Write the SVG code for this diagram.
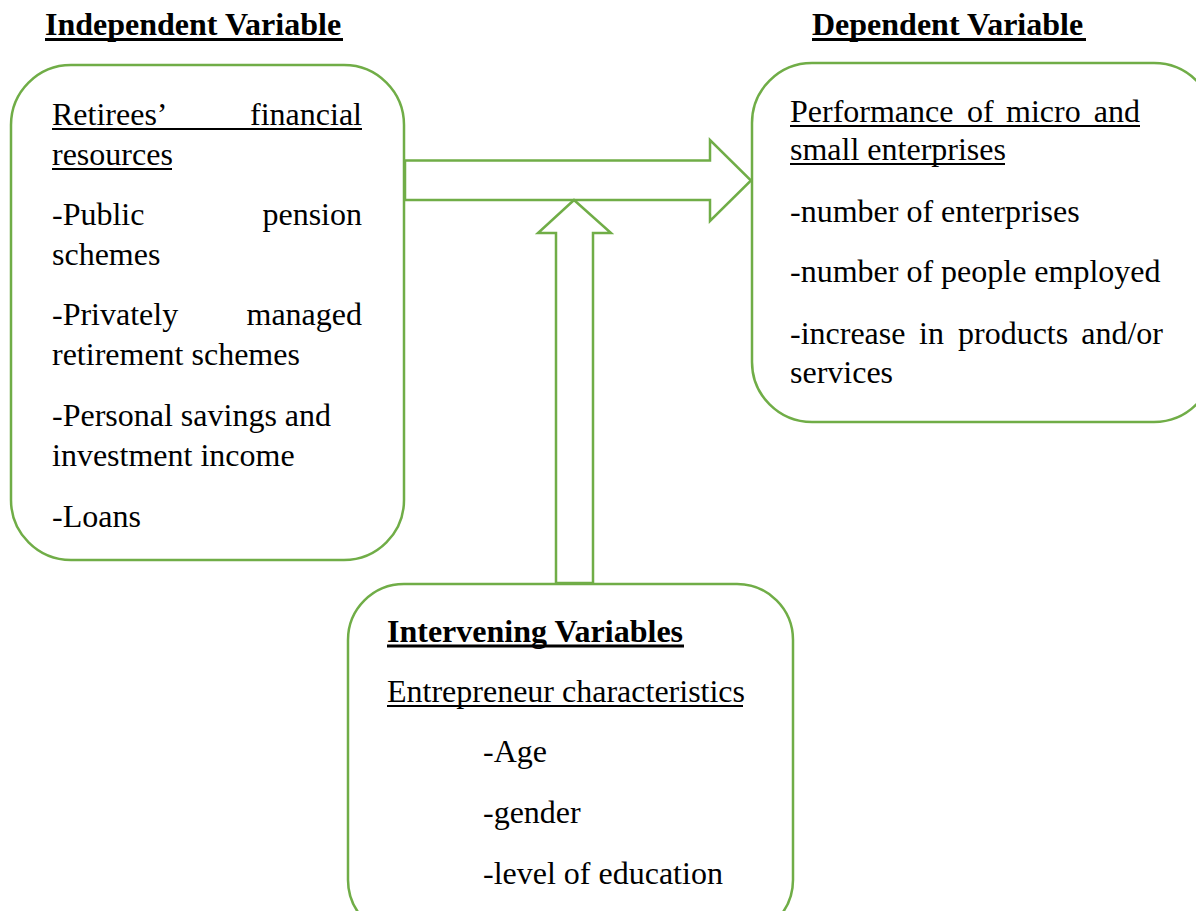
<svg xmlns="http://www.w3.org/2000/svg" width="1196" height="911" viewBox="0 0 1196 911">
<style>
.box{fill:#fff;stroke:#70AD47;stroke-width:2.5}
.arr{fill:#fff;stroke:#70AD47;stroke-width:2.5;stroke-linejoin:miter}
text{font-family:"Liberation Serif","Times New Roman",serif;font-size:32px;fill:#000}
.b{font-weight:bold}
.e{text-anchor:end}
.ul{stroke:#000;stroke-width:2}
.ulb{stroke:#000;stroke-width:3}
</style>
<rect width="1196" height="911" fill="#fff"/>
<g id="title-independent">
<text class="b" x="45" y="35">Independent Variable</text>
<line class="ulb" x1="45" y1="39.5" x2="343" y2="39.5"/>
</g>
<g id="title-dependent">
<text class="b" x="812" y="35">Dependent Variable</text>
<line class="ulb" x1="812" y1="39.5" x2="1086" y2="39.5"/>
</g>
<g id="independent">
<rect class="box" x="11" y="65" width="393" height="495" rx="60" ry="60"/>
<text x="52" y="125">Retirees’</text>
<text class="e" x="362" y="125">financial</text>
<line class="ul" x1="52" y1="129" x2="362" y2="129"/>
<text x="52" y="165">resources</text>
<line class="ul" x1="52" y1="169" x2="172" y2="169"/>
<text x="52" y="225">-Public</text>
<text class="e" x="362" y="225">pension</text>
<text x="52" y="265">schemes</text>
<text x="52" y="325">-Privately</text>
<text class="e" x="362" y="325">managed</text>
<text x="52" y="365">retirement schemes</text>
<text x="52" y="426">-Personal savings and</text>
<text x="52" y="466">investment income</text>
<text x="52" y="527">-Loans</text>
</g>
<g id="dependent">
<rect class="box" x="752" y="63" width="462" height="359" rx="60" ry="60"/>
<text x="790" y="122">Performance</text>
<text x="967" y="122">of</text>
<text x="1006" y="122">micro</text>
<text class="e" x="1140" y="122">and</text>
<line class="ul" x1="790" y1="126" x2="1140" y2="126"/>
<text x="790" y="160">small enterprises</text>
<line class="ul" x1="790" y1="164" x2="1005" y2="164"/>
<text x="790" y="222">-number of enterprises</text>
<text x="790" y="282">-number of people employed</text>
<text x="790" y="344">-increase</text>
<text x="919" y="344">in</text>
<text x="958" y="344">products</text>
<text class="e" x="1163" y="344">and/or</text>
<text x="790" y="383">services</text>
</g>
<g id="intervening">
<rect class="box" x="348" y="584" width="445" height="352" rx="56" ry="56"/>
<text class="b" x="387" y="642">Intervening Variables</text>
<line class="ulb" x1="387" y1="646" x2="684" y2="646"/>
<text x="387" y="702">Entrepreneur characteristics</text>
<line class="ul" x1="387" y1="706" x2="743" y2="706"/>
<text x="483" y="762">-Age</text>
<text x="483" y="823">-gender</text>
<text x="483" y="884">-level of education</text>
</g>
<g id="connectors">
<polygon class="arr" points="405,160.5 710,160.5 710,140 751,180.5 710,221 710,200 405,200"/>
<polygon class="arr" points="556,583 556,233 538,233 574,200 611,233 593,233 593,583"/>
</g>
</svg>
